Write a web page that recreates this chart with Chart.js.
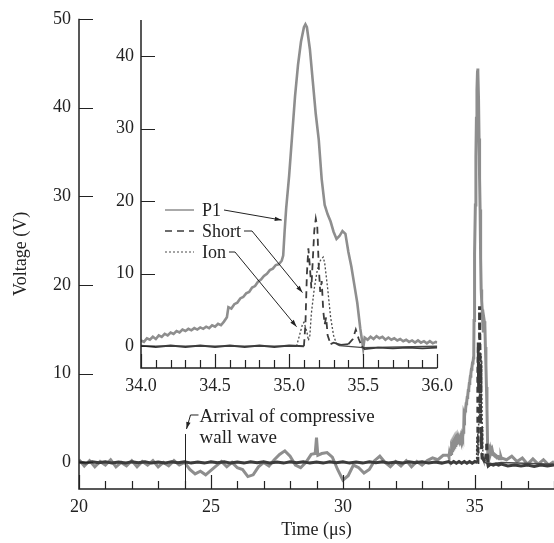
<!DOCTYPE html>
<html>
<head>
<meta charset="utf-8">
<script src="https://cdn.jsdelivr.net/npm/chart.js@4.4.0/dist/chart.umd.min.js"></script>
<style>
html, body { margin: 0; padding: 0; background: #fff; }
#wrap { position: relative; width: 554px; height: 543px; }
#main { position: absolute; left: 0; top: 0; }
#inset { position: absolute; left: 95px; top: 0; }
</style>
</head>
<body>
<div id="wrap">
  <canvas id="main" width="554" height="543"></canvas>
  <canvas id="inset" width="365" height="400"></canvas>
</div>
<script>
// tick labels
const mainXTicks = [20, 25, 30, 35];
const mainYTicks = [0, 10, 20, 30, 40, 50];
const insetXTicks = [34.0, 34.5, 35.0, 35.5, 36.0];
const insetYTicks = [0, 10, 20, 30, 40];

const seriesNames = ['P1', 'Short', 'Ion'];
const arrivalTime = 24;
const arrivalTop = 3.2;

// P1 trace, [time us, volts]
const p1Early = [
  [20.0,0.3],[20.2,-0.4],[20.4,0.2],[20.6,-0.5],[20.8,0.1],[21.0,-0.3],[21.2,0.3],[21.4,-0.5],[21.6,0.0],[21.8,-0.4],
  [22.0,0.2],[22.2,-0.5],[22.4,0.1],[22.6,-0.3],[22.8,0.2],[23.0,-0.5],[23.2,0.0],[23.4,-0.4],[23.6,0.2],[23.8,-0.3],
  [24.0,0.0],[24.2,-0.8],[24.4,-1.3],[24.6,-1.0],[24.8,-1.4],[25.0,-0.9],[25.2,-0.4],[25.4,0.1],[25.6,-0.5],[25.8,0.0],
  [26.0,-0.6],[26.2,-0.8],[26.4,-1.6],[26.6,-1.4],[26.8,-0.5],[27.0,0.0],[27.2,-0.4],[27.4,0.3],[27.6,0.9],[27.8,1.3],
  [28.0,0.7],[28.2,-0.3],[28.4,-0.6],[28.6,0.0],[28.8,0.9],[28.95,1.0],[29.0,2.8],[29.05,0.8],[29.2,1.0],[29.4,1.1],
  [29.6,0.6],[29.8,-0.8],[30.0,-2.0],[30.2,-1.5],[30.4,-0.3],[30.6,-0.6],[30.8,-1.2],[31.0,-0.8],[31.2,0.2],[31.4,0.7],
  [31.6,0.0],[31.8,-0.5],[32.0,0.1],[32.2,-0.4],[32.4,0.2],[32.6,-0.5],[32.8,0.1],[33.0,-0.3],[33.2,0.2],[33.4,0.5],
  [33.6,0.3],[33.8,0.8]
];
const p1Peak = [
  [34.00,0.8],[34.02,0.6],[34.04,1.1],[34.06,0.9],[34.08,1.3],[34.10,1.0],[34.12,1.5],[34.14,1.3],[34.16,1.7],[34.18,1.5],
  [34.20,1.9],[34.22,1.7],[34.24,2.1],[34.26,1.9],[34.28,2.3],[34.30,2.1],[34.32,2.4],[34.34,2.2],[34.36,2.5],[34.38,2.3],
  [34.40,2.6],[34.42,2.4],[34.44,2.7],[34.46,2.5],[34.48,2.9],[34.50,2.7],[34.52,3.1],[34.54,2.9],[34.56,3.4],[34.58,4.0],
  [34.59,5.4],[34.61,5.2],[34.63,5.8],[34.65,6.0],[34.67,6.6],[34.69,6.8],[34.71,7.3],[34.73,7.5],[34.75,8.1],[34.77,8.3],
  [34.79,8.9],[34.81,9.2],[34.83,9.7],[34.85,10.0],[34.87,10.5],[34.89,10.7],[34.91,11.2],[34.93,11.3],[34.95,11.8],[34.96,12.5],
  [34.97,16.0],[34.98,19.0],[35.00,23.5],[35.02,29.0],[35.04,34.5],[35.06,38.8],[35.08,42.0],[35.10,44.0],[35.11,44.4],[35.12,44.0],
  [35.14,41.0],[35.16,36.5],[35.18,32.0],[35.20,28.5],[35.22,23.0],[35.24,19.5],[35.26,18.2],[35.28,17.2],[35.30,15.8],[35.32,14.8],
  [35.34,15.2],[35.36,15.9],[35.38,15.5],[35.40,13.0],[35.42,11.0],[35.44,8.5],[35.46,6.0],[35.48,2.5],[35.50,-0.3],[35.51,1.2],
  [35.53,0.9],[35.55,1.3],[35.57,1.0],[35.59,1.4],[35.61,1.1],[35.63,1.3],[35.65,0.9],[35.67,1.2],[35.69,0.9],[35.71,1.1],
  [35.73,0.8],[35.75,1.0],[35.77,0.7],[35.79,0.9],[35.81,0.6],[35.83,0.8],[35.85,0.5],[35.87,0.8],[35.89,0.5],[35.91,0.7],
  [35.93,0.4],[35.95,0.7],[35.97,0.4],[35.99,0.6],[36.00,0.5]
];
const p1Late = [
  [36.2,0.3],[36.4,0.7],[36.6,0.1],[36.8,0.5],[37.0,-0.2],[37.2,0.4],[37.4,-0.2],[37.6,0.3],[37.8,-0.3],[38.0,0.1]
];

// Short probe trace
const shortEarly = [
  [20.0,0.05],[20.25,-0.08],[20.5,0.08],[20.75,-0.05],[21.0,0.08],[21.25,-0.08],[21.5,0.05],[21.75,-0.08],[22.0,0.08],[22.25,-0.05],
  [22.5,0.08],[22.75,-0.08],[23.0,0.05],[23.25,-0.08],[23.5,0.08],[23.75,-0.05],[24.0,0.08],[24.25,-0.08],[24.5,0.05],[24.75,-0.08],
  [25.0,0.08],[25.25,-0.05],[25.5,0.08],[25.75,-0.08],[26.0,0.05],[26.25,-0.08],[26.5,0.08],[26.75,-0.05],[27.0,0.08],[27.25,-0.08],
  [27.5,0.05],[27.75,-0.08],[28.0,0.08],[28.25,-0.05],[28.5,0.08],[28.75,-0.08],[29.0,0.05],[29.25,-0.08],[29.5,0.08],[29.75,-0.05],
  [30.0,0.08],[30.25,-0.08],[30.5,0.05],[30.75,-0.08],[31.0,0.08],[31.25,-0.05],[31.5,0.08],[31.75,-0.08],[32.0,0.05],[32.25,-0.08],
  [32.5,0.08],[32.75,-0.05],[33.0,0.08],[33.25,-0.08],[33.5,0.05],[33.75,-0.08]
];
const shortPeak = [
  [34.0,0.1],[34.1,-0.1],[34.2,0.1],[34.3,-0.1],[34.4,0.1],[34.5,-0.1],[34.6,0.1],[34.7,-0.1],[34.8,0.1],[34.9,-0.1],
  [35.0,0.1],[35.1,0.0],[35.11,3.0],[35.12,10.0],[35.13,13.5],[35.14,11.0],[35.15,8.0],[35.16,12.0],[35.17,16.0],[35.18,17.6],
  [35.19,16.5],[35.20,11.0],[35.21,7.5],[35.22,9.0],[35.23,5.0],[35.24,3.0],[35.25,4.0],[35.26,1.5],[35.28,0.3],[35.30,0.5],
  [35.35,0.2],[35.40,0.3],[35.43,1.0],[35.45,2.3],[35.47,1.0],[35.49,0.0],[35.51,-0.4],[35.6,-0.2],[35.7,-0.3],[35.8,-0.2],
  [35.9,-0.3],[36.0,-0.2]
];
const shortLate = [
  [36.25,-0.4],[36.5,-0.3],[36.75,-0.4],[37.0,-0.3],[37.25,-0.45],[37.5,-0.3],[37.75,-0.4],[38.0,-0.3]
];

// Ion probe trace
const ionPeak = [
  [34.0,0.0],[35.05,0.0],[35.07,1.5],[35.09,3.0],[35.10,3.3],[35.12,2.0],[35.13,0.8],[35.14,1.5],[35.15,4.5],[35.17,8.0],
  [35.19,10.5],[35.21,11.8],[35.23,12.3],[35.24,11.5],[35.26,8.0],[35.28,4.0],[35.30,1.5],[35.32,0.3],[35.34,0.1],[35.5,-0.2],
  [36.0,0.0]
];
const ionOutside = [[20.0,0.0], [38.0,-0.2]];

const FONT = "'Liberation Serif', 'Times New Roman', serif";
const INK = '#222';
const P1_COLOR = '#8e8e8e';
const SHORT_COLOR = '#3c3c3c';
const ION_COLOR = '#4a4a4a';

Chart.defaults.font.family = FONT;
Chart.defaults.font.size = 18;
Chart.defaults.color = INK;

const toXY = arr => arr.map(p => ({ x: p[0], y: p[1] }));

// dashes only where the trace leaves the baseline
const dashOffBase = dash => ctx =>
  (Math.abs(ctx.p0.parsed.y) < 0.8 && Math.abs(ctx.p1.parsed.y) < 0.8) ? [] : dash;

// axis lines and inward ticks
const inward = {
  id: 'inward',
  afterDraw(chart, args, o) {
    const { ctx, chartArea: a, scales: { x, y } } = chart;
    ctx.save();
    ctx.strokeStyle = INK;
    ctx.lineWidth = 1.5;
    ctx.beginPath();
    ctx.moveTo(a.left, a.top);
    ctx.lineTo(a.left, a.bottom);
    ctx.lineTo(a.right, a.bottom);
    ctx.stroke();
    ctx.lineWidth = 1.2;
    ctx.beginPath();
    const n = Math.round((x.max - x.min) / o.xStep);
    for (let i = 0; i <= n; i++) {
      const v = x.min + i * o.xStep;
      const major = Math.abs(v / o.xMajor - Math.round(v / o.xMajor)) < 1e-6;
      const px = Math.round(x.getPixelForValue(v)) + 0.5;
      ctx.moveTo(px, a.bottom);
      ctx.lineTo(px, a.bottom - (major ? o.majorLen : o.minorLen));
    }
    o.yTicks.forEach(v => {
      const py = Math.round(y.getPixelForValue(v)) + 0.5;
      ctx.moveTo(a.left, py);
      ctx.lineTo(a.left + o.majorLen, py);
    });
    ctx.stroke();
    ctx.restore();
  }
};

function arrow(ctx, x0, y0, x1, y1) {
  ctx.beginPath();
  ctx.moveTo(x0, y0);
  ctx.lineTo(x1, y1);
  ctx.stroke();
  const ang = Math.atan2(y1 - y0, x1 - x0);
  ctx.beginPath();
  ctx.moveTo(x1, y1);
  ctx.lineTo(x1 - 7 * Math.cos(ang) + 2.2 * Math.sin(ang), y1 - 7 * Math.sin(ang) - 2.2 * Math.cos(ang));
  ctx.lineTo(x1 - 7 * Math.cos(ang) - 2.2 * Math.sin(ang), y1 - 7 * Math.sin(ang) + 2.2 * Math.cos(ang));
  ctx.closePath();
  ctx.fill();
}

const arrivalNote = {
  id: 'arrivalNote',
  afterDraw(chart) {
    const { ctx, chartArea: a, scales: { x, y } } = chart;
    const px = Math.round(x.getPixelForValue(arrivalTime)) + 0.5;
    const top = y.getPixelForValue(arrivalTop);
    ctx.save();
    ctx.strokeStyle = INK;
    ctx.fillStyle = INK;
    ctx.lineWidth = 1;
    ctx.beginPath();
    ctx.moveTo(px, top);
    ctx.lineTo(px, a.bottom);
    ctx.stroke();
    ctx.beginPath();
    ctx.moveTo(px + 13, top - 19);
    ctx.lineTo(px + 5, top - 19);
    ctx.stroke();
    arrow(ctx, px + 5, top - 19, px + 1, top - 5);
    ctx.font = '19px ' + FONT;
    ctx.textBaseline = 'middle';
    ctx.textAlign = 'left';
    ctx.fillText('Arrival of compressive', px + 14, top - 17);
    ctx.fillText('wall wave', px + 14, top + 4);
    ctx.restore();
  }
};

const insetNote = {
  id: 'insetNote',
  afterDraw(chart) {
    const { ctx, chartArea: a, scales: { x, y } } = chart;
    const styles = [
      { color: P1_COLOR, dash: [], width: 1.5 },
      { color: SHORT_COLOR, dash: [7, 5], width: 1.5 },
      { color: ION_COLOR, dash: [2, 2], width: 1.2 }
    ];
    const tips = [[34.95, 17.4], [35.09, 7.4], [35.05, 2.7]];
    const gaps = [0, 8, 6];
    ctx.save();
    ctx.font = '18px ' + FONT;
    ctx.textBaseline = 'middle';
    seriesNames.forEach((name, i) => {
      const ly = a.top + 190 + i * 21;
      const s = styles[i];
      ctx.strokeStyle = s.color;
      ctx.lineWidth = s.width;
      ctx.setLineDash(s.dash);
      ctx.beginPath();
      ctx.moveTo(a.left + 24, ly);
      ctx.lineTo(a.left + 53, ly);
      ctx.stroke();
      ctx.setLineDash([]);
      ctx.fillStyle = INK;
      ctx.fillText(name, a.left + 61, ly + 1);
      const tx = a.left + 61 + ctx.measureText(name).width + 3;
      ctx.strokeStyle = INK;
      ctx.lineWidth = 1;
      ctx.beginPath();
      ctx.moveTo(tx, ly);
      ctx.lineTo(tx + gaps[i], ly);
      ctx.stroke();
      arrow(ctx, tx + gaps[i], ly, x.getPixelForValue(tips[i][0]), y.getPixelForValue(tips[i][1]));
    });
    ctx.restore();
  }
};

const lineBase = { pointRadius: 0, tension: 0, fill: false };

new Chart(document.getElementById('main'), {
  type: 'line',
  data: {
    datasets: [
      { ...lineBase, label: 'Short', data: toXY([...shortEarly, ...shortPeak, ...shortLate]),
        borderColor: SHORT_COLOR, borderWidth: 3, order: 0,
        segment: { borderDash: dashOffBase([6, 4]) } },
      { ...lineBase, label: 'Ion', data: toXY([ionOutside[0], ...ionPeak, ionOutside[1]]),
        borderColor: ION_COLOR, borderWidth: 1.5, order: 1,
        segment: { borderDash: dashOffBase([2, 2]) } },
      { ...lineBase, label: 'P1', data: toXY([...p1Early, ...p1Peak, ...p1Late]),
        borderColor: P1_COLOR, borderWidth: 3, order: 2 }
    ]
  },
  options: {
    responsive: false,
    animation: false,
    devicePixelRatio: 1,
    layout: { padding: { top: 14, right: 0, left: 0, bottom: 0 } },
    plugins: {
      legend: { display: false },
      tooltip: { enabled: false },
      inward: { xStep: 1, xMajor: 5, majorLen: 14, minorLen: 8, yTicks: mainYTicks }
    },
    scales: {
      x: {
        type: 'linear', min: 20, max: 38,
        grid: { display: false, drawTicks: false },
        border: { display: false },
        afterBuildTicks: s => { s.ticks = mainXTicks.map(v => ({ value: v })); },
        afterFit: s => { s.height = 54; },
        ticks: { padding: 7, maxRotation: 0, autoSkip: false },
        title: { display: true, text: 'Time (μs)', font: { size: 18 }, padding: { top: 0, bottom: 2 } }
      },
      y: {
        min: -3, max: 50,
        grid: { display: false, drawTicks: false },
        border: { display: false },
        afterBuildTicks: s => { s.ticks = mainYTicks.map(v => ({ value: v })); },
        afterFit: s => { s.width = 79; },
        ticks: { padding: 8 },
        title: { display: true, text: 'Voltage (V)', font: { size: 18 }, padding: { top: 10, bottom: 0 } }
      }
    }
  },
  plugins: [inward, arrivalNote]
});

new Chart(document.getElementById('inset'), {
  type: 'line',
  data: {
    datasets: [
      { ...lineBase, label: 'Short', data: toXY(shortPeak),
        borderColor: SHORT_COLOR, borderWidth: 1.8, order: 0,
        segment: { borderDash: dashOffBase([7, 5]) } },
      { ...lineBase, label: 'Ion', data: toXY(ionPeak),
        borderColor: ION_COLOR, borderWidth: 1.3, order: 1,
        segment: { borderDash: dashOffBase([2, 2]) } },
      { ...lineBase, label: 'P1', data: toXY(p1Peak),
        borderColor: P1_COLOR, borderWidth: 2.6, order: 2 }
    ]
  },
  options: {
    responsive: false,
    animation: false,
    devicePixelRatio: 1,
    layout: { padding: { top: 20, right: 22, left: 0, bottom: 0 } },
    plugins: {
      legend: { display: false },
      tooltip: { enabled: false },
      inward: { xStep: 0.1, xMajor: 0.5, majorLen: 14, minorLen: 8, yTicks: insetYTicks }
    },
    scales: {
      x: {
        type: 'linear', min: 34, max: 36,
        grid: { display: false, drawTicks: false },
        border: { display: false },
        afterBuildTicks: s => { s.ticks = insetXTicks.map(v => ({ value: v })); },
        afterFit: s => { s.height = 32; },
        ticks: { padding: 7, maxRotation: 0, autoSkip: false, callback: v => Number(v).toFixed(1) }
      },
      y: {
        min: -3, max: 45,
        grid: { display: false, drawTicks: false },
        border: { display: false },
        afterBuildTicks: s => { s.ticks = insetYTicks.map(v => ({ value: v })); },
        afterFit: s => { s.width = 46; },
        ticks: { padding: 7 }
      }
    }
  },
  plugins: [inward, insetNote]
});
</script>
</body>
</html>
